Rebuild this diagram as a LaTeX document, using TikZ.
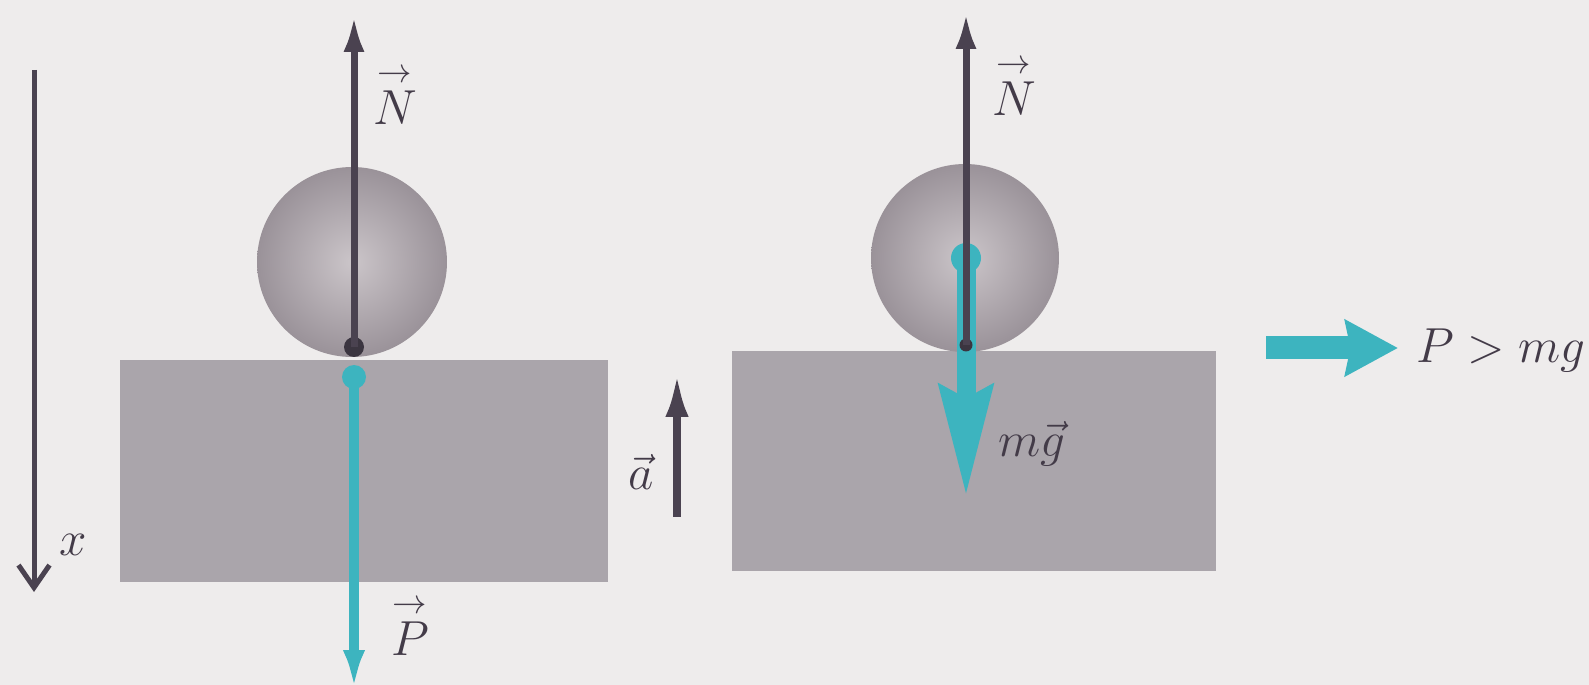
\documentclass[tikz,border=0pt]{standalone}
\usepackage{fix-cm}
\usepackage{amsmath}
\usetikzlibrary{arrows.meta}

\definecolor{paper}{HTML}{EEECEC}
\definecolor{ink}{HTML}{4A4250}
\definecolor{forcecyan}{HTML}{3DB4BF}
\definecolor{slab}{HTML}{AAA5AB}
\definecolor{ballout}{HTML}{9A9299}
\definecolor{ballin}{HTML}{CBC5C9}

% capital vector letter with a thin arrow set above it
\newcommand{\vecsym}[1]{\overset{\scriptstyle\rightarrow}{#1}}

\begin{document}
\begin{tikzpicture}[x=0.02cm, y=-0.02cm,
  lbl/.style={font=\fontsize{28}{32}\selectfont, inner sep=0pt, text=ink!90!black},
  slabbox/.style={rectangle, fill=slab, draw=none, inner sep=0pt},
  ball/.style={circle, inner sep=0pt, shading=radial, inner color=ballin, outer color=ballout, draw=none},
  darkdot/.style={circle, fill=ink!80!black, inner sep=0pt},
  cyandot/.style={circle, fill=forcecyan, inner sep=0pt},
  inkvec/.style={draw=ink, line width=0.14cm, -{Latex[length=0.74cm, width=0.42cm]}},
  cyanvec/.style={draw=forcecyan, line width=0.2cm, -{Latex[length=0.8cm, width=0.44cm]}},
  axis/.style={draw=ink, line width=0.1cm, -{Straight Barb[length=0.45cm, width=0.62cm, line width=0.1cm]}}
]
% page with its margins
\fill[paper] (0,0) rectangle (1589,685);
\useasboundingbox (0,0) rectangle (1589,685);

% x axis
\coordinate (xtop) at (34,70);
\coordinate (xend) at (34,592);
\draw[axis] (xtop) -- (xend);
\node[lbl] (xlab) at (73,545) {$x$};

% ---------- left: ball pressing on the support ----------
\node[slabbox, minimum width=9.76cm, minimum height=4.46cm] (slabL) at (364,471) {};
\node[ball, minimum size=3.8cm] (ballL) at (352,262) {};

\coordinate (PLend) at (354,690);
\node[cyandot, minimum size=0.48cm] (cdL) at (354,377) {};
\draw[cyanvec] (cdL.center) -- (PLend);

\coordinate (NLtip) at (354,15);
\node[darkdot, minimum size=0.4cm] (ddL) at (354,347) {};
\draw[inkvec] (ddL.center) -- (NLtip);

\node[lbl] (NLlab) at (395,95) {$\vecsym{N}$};
\node[lbl] (PLlab) at (410,626) {$\vecsym{P}$};

% acceleration
\coordinate (abot) at (677,517);
\coordinate (atop) at (677,372);
\draw[draw=ink, line width=0.16cm, -{Latex[length=0.9cm, width=0.46cm]}] (abot) -- (atop);
\node[lbl] (alab) at (641,472) {$\vec{a}$};

% ---------- right: forces on the ball ----------
\node[slabbox, minimum width=9.68cm, minimum height=4.4cm] (slabR) at (974,461) {};
\node[ball, minimum size=3.76cm] (ballR) at (965,258) {};

\coordinate (mgtip) at (966,496);
\node[cyandot, minimum size=0.6cm] (cdR) at (966,258) {};
\draw[draw=forcecyan, line width=0.38cm, -{Stealth[length=2.2cm, width=1.05cm, inset=0.25cm]}] (cdR.center) -- (mgtip);

\coordinate (NRtip) at (966,12);
\node[darkdot, minimum size=0.26cm] (ddR) at (966,345) {};
\draw[inkvec] (ddR.center) -- (NRtip);

\node[lbl] (NRlab) at (1014,86) {$\vecsym{N}$};
\node[lbl] (mglab) at (1032,444) {$m\vec{g}$};

% conclusion
\coordinate (cbeg) at (1266,348);
\coordinate (cend) at (1398,348);
\draw[draw=forcecyan, line width=0.46cm, -{Stealth[length=1.05cm, width=1.1cm, inset=0.1cm]}] (cbeg) -- (cend);
\node[lbl, anchor=west] (cmp) at (1416,350) {$P > mg$};
\end{tikzpicture}
\end{document}
